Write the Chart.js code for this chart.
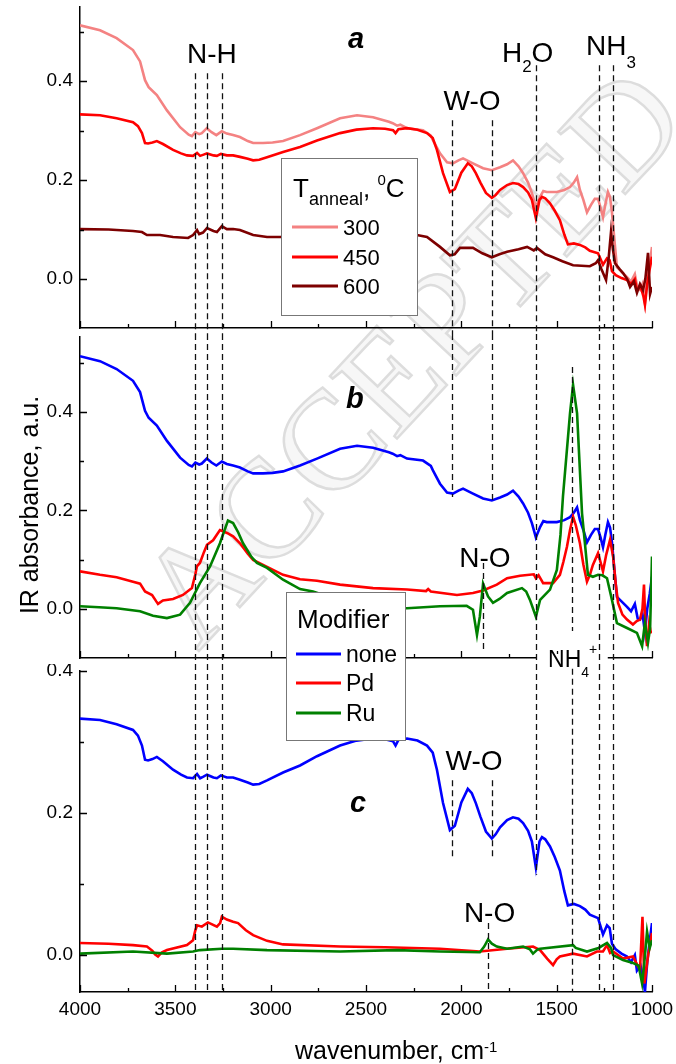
<!DOCTYPE html>
<html>
<head>
<meta charset="utf-8">
<script src="https://cdn.jsdelivr.net/npm/chart.js@4.4.1/dist/chart.umd.min.js"></script>
<style>
  html, body { margin: 0; padding: 0; background: #fff; }
  #page { position: relative; width: 676px; height: 1064px; overflow: hidden; }
  #page canvas { position: absolute; left: 0; }
</style>
</head>
<body>
<div id="page">
  <canvas id="bg" width="676" height="1064" style="top:0"></canvas>
  <canvas id="panelA" width="676" height="334" style="top:0"></canvas>
  <canvas id="panelB" width="676" height="330" style="top:334px"></canvas>
  <canvas id="panelC" width="676" height="400" style="top:664px"></canvas>
  <canvas id="overlay" width="676" height="1064" style="top:0"></canvas>
</div>
<script>
const FONT = 'Arial, "Liberation Sans", Helvetica, sans-serif';

// ---- data (wavenumber, cm-1 / absorbance, a.u.) ----
// T anneal = 300 C (also "none" in panel b)
const wn300 = [4000,3895,3808,3722,3685,3659,3640,3597,3544,3475,3430,3413,3395,3375,3361,3335,3310,3285,3256,3230,3197,3161,3120,3092,3040,2990,2935,2846,2757,2636,2547,2463,2380,2360,2337,2320,2285,2201,2160,2149,2112,2075,2044,2015,1991,1960,1939,1886,1840,1797,1760,1729,1700,1676,1650,1630,1609,1587,1570,1552,1499,1460,1430,1410,1393,1378,1360,1341,1320,1300,1283,1270,1257,1245,1231,1220,1210,1195,1184,1160,1131,1110,1090,1075,1063,1050,1037,1025,1012,1000];
const abs300 = [0.513,0.503,0.487,0.463,0.440,0.402,0.388,0.372,0.341,0.307,0.292,0.289,0.297,0.293,0.295,0.305,0.297,0.291,0.299,0.294,0.291,0.287,0.279,0.275,0.275,0.276,0.279,0.291,0.305,0.325,0.331,0.327,0.318,0.315,0.310,0.312,0.305,0.301,0.290,0.281,0.254,0.236,0.234,0.240,0.244,0.238,0.234,0.224,0.220,0.226,0.232,0.240,0.228,0.214,0.195,0.174,0.145,0.166,0.178,0.176,0.176,0.180,0.186,0.195,0.206,0.180,0.160,0.135,0.150,0.162,0.162,0.145,0.125,0.150,0.176,0.165,0.135,0.070,0.024,0.015,0.004,-0.005,0.010,-0.020,-0.022,-0.010,-0.048,0.000,0.030,0.065];

// T anneal = 450 C (also "none" in panel c)
const wn450 = [4000,3895,3808,3722,3696,3675,3659,3643,3620,3597,3565,3512,3470,3439,3407,3386,3370,3355,3334,3300,3282,3261,3230,3197,3161,3120,3092,3060,3019,2935,2846,2757,2636,2550,2463,2400,2358,2345,2330,2285,2230,2180,2150,2128,2096,2060,2034,2000,1966,1945,1924,1900,1871,1840,1820,1797,1760,1729,1700,1676,1650,1630,1609,1590,1577,1560,1535,1510,1483,1460,1441,1410,1378,1350,1326,1283,1257,1236,1222,1210,1190,1160,1131,1110,1090,1079,1060,1045,1037,1025,1012,1000];
const abs450 = [0.333,0.331,0.325,0.317,0.309,0.295,0.275,0.274,0.276,0.279,0.273,0.261,0.254,0.250,0.249,0.255,0.249,0.251,0.254,0.250,0.249,0.253,0.250,0.250,0.247,0.243,0.240,0.241,0.246,0.257,0.267,0.280,0.295,0.302,0.305,0.304,0.301,0.295,0.303,0.305,0.302,0.295,0.285,0.261,0.214,0.176,0.182,0.215,0.234,0.228,0.214,0.195,0.174,0.164,0.170,0.180,0.190,0.194,0.192,0.186,0.175,0.160,0.123,0.160,0.166,0.163,0.153,0.138,0.119,0.090,0.070,0.072,0.069,0.064,0.057,0.052,0.029,0.042,0.038,0.016,0.008,0.002,-0.002,-0.010,0.000,-0.022,-0.015,-0.035,-0.052,-0.010,0.020,0.045];

// T anneal = 600 C
const wn600 = [4000,3850,3722,3675,3649,3580,3512,3433,3407,3386,3375,3355,3334,3300,3282,3256,3230,3197,3161,3092,3019,2951,2850,2700,2500,2350,2233,2180,2112,2060,2035,2007,1939,1890,1840,1800,1760,1700,1655,1620,1603,1560,1519,1470,1414,1370,1326,1295,1283,1265,1241,1228,1215,1205,1194,1170,1152,1130,1115,1095,1079,1063,1047,1035,1021,1010,1000];
const abs600 = [0.101,0.100,0.097,0.095,0.089,0.089,0.085,0.083,0.089,0.099,0.091,0.094,0.103,0.097,0.095,0.107,0.101,0.101,0.099,0.089,0.085,0.085,0.086,0.088,0.090,0.090,0.089,0.085,0.065,0.048,0.050,0.063,0.063,0.052,0.044,0.050,0.055,0.060,0.065,0.058,0.063,0.050,0.044,0.036,0.028,0.027,0.026,0.032,0.038,0.020,-0.002,0.040,0.095,0.060,0.032,0.020,0.012,0.000,-0.016,-0.005,-0.028,-0.010,-0.022,0.000,0.053,-0.030,-0.016];

// panel b: 300 C with Pd and Ru
const wnPdB = [4000,3895,3808,3722,3685,3659,3622,3600,3591,3565,3512,3460,3413,3395,3387,3371,3350,3334,3302,3266,3229,3197,3161,3120,3092,3019,2935,2846,2757,2636,2463,2285,2185,2174,2160,2023,1939,1886,1814,1760,1692,1620,1609,1595,1580,1571,1519,1483,1465,1446,1430,1414,1400,1378,1360,1341,1325,1310,1283,1270,1257,1240,1220,1204,1190,1178,1155,1131,1100,1080,1063,1050,1042,1034,1026,1015,1005];
const absPdB = [0.076,0.069,0.064,0.055,0.051,0.035,0.028,0.015,0.010,0.017,0.020,0.028,0.042,0.070,0.086,0.093,0.115,0.130,0.139,0.160,0.154,0.147,0.133,0.112,0.099,0.085,0.069,0.060,0.057,0.049,0.042,0.039,0.036,0.040,0.035,0.028,0.032,0.037,0.049,0.062,0.067,0.070,0.062,0.068,0.058,0.052,0.052,0.069,0.095,0.126,0.160,0.187,0.170,0.133,0.090,0.055,0.070,0.089,0.113,0.095,0.076,0.110,0.140,0.106,0.050,0.012,-0.012,-0.022,-0.032,-0.025,-0.022,0.000,0.049,-0.040,-0.076,-0.030,-0.050];

const wnRuB = [4000,3900,3808,3685,3617,3544,3475,3423,3371,3318,3266,3224,3197,3170,3145,3100,3072,3019,2935,2846,2778,2740,2700,2636,2500,2285,2112,1972,1939,1918,1903,1886,1860,1834,1800,1760,1682,1660,1640,1609,1587,1535,1499,1480,1467,1430,1414,1393,1367,1336,1310,1283,1260,1236,1210,1184,1131,1079,1052,1037,1021,1010,1000];
const absRuB = [0.005,0.003,0.001,-0.005,-0.014,-0.019,-0.012,0.012,0.052,0.086,0.133,0.179,0.174,0.155,0.133,0.105,0.093,0.083,0.059,0.040,0.035,0.030,0.015,0.004,0.002,0.001,0.005,0.006,-0.002,-0.053,-0.016,0.051,0.025,0.012,0.020,0.032,0.042,0.035,0.018,-0.016,0.018,0.039,0.079,0.150,0.228,0.397,0.455,0.397,0.194,0.069,0.065,0.069,0.068,0.062,0.018,-0.029,-0.039,-0.049,-0.076,-0.029,-0.069,-0.040,0.106];

// panel c: 450 C with Pd and Ru
const wnPdC = [4000,3850,3722,3649,3620,3607,3591,3570,3544,3439,3407,3395,3386,3361,3329,3282,3265,3256,3230,3197,3171,3130,3092,3019,2935,2636,2400,2112,1903,1760,1624,1587,1550,1519,1500,1483,1414,1341,1289,1257,1236,1220,1204,1152,1100,1063,1050,1040,1020,1000];
const absPdC = [0.017,0.016,0.014,0.012,0.006,0.001,-0.002,0.004,0.007,0.014,0.021,0.035,0.042,0.040,0.046,0.040,0.045,0.054,0.050,0.047,0.045,0.035,0.028,0.020,0.015,0.012,0.011,0.009,0.005,0.009,0.012,0.007,-0.005,-0.014,-0.006,-0.002,0.002,-0.002,0.005,0.005,0.014,0.003,0.005,-0.005,-0.002,-0.021,0.054,-0.040,0.000,0.031];

const wnRuC = [4000,3722,3544,3407,3371,3256,3197,3019,2636,2337,2112,1903,1880,1860,1840,1814,1760,1676,1640,1624,1600,1587,1414,1400,1341,1280,1236,1215,1204,1152,1100,1070,1052,1040,1026,1012,1000];
const absRuC = [0.002,0.005,0.002,0.005,0.007,0.009,0.009,0.007,0.005,0.007,0.005,0.004,0.012,0.022,0.016,0.012,0.009,0.012,0.008,0.002,0.008,0.009,0.014,0.010,0.005,0.010,0.017,0.010,0.000,-0.007,-0.011,-0.015,-0.040,-0.010,0.033,0.010,0.021];

// ticks
const xTickVals = [4000,3750,3500,3250,3000,2750,2500,2250,2000,1750,1500,1250,1000];
const yTicksAB = [0, 0.1, 0.2, 0.3, 0.4, 0.5];
const yTicksC = [0, 0.1, 0.2, 0.3, 0.4];

// band positions, cm-1
const nhBands = [3395, 3335, 3255];
const woBands = [2051, 1841];
const h2oBand = 1609;
const nh3Bands = [1278, 1203];
const nh4Band = 1418;
const noBandB = 1886;
const noBandC = 1862;

const isMajorY = v => Math.abs(v * 5 - Math.round(v * 5)) < 1e-6;

function makePanel(id, series, yMin, yMax, yTicks, padTop, xHeight, showX) {
  return new Chart(document.getElementById(id), {
    type: 'line',
    data: {
      datasets: series.map((s, i) => ({
        label: s.label,
        data: s.wn.map((w, k) => ({ x: w, y: s.abs[k] })),
        borderColor: s.color,
        borderWidth: 2.6,
        pointRadius: 0,
        tension: 0,
        fill: false,
        order: series.length - i
      }))
    },
    options: {
      responsive: false,
      animation: false,
      events: [],
      layout: { padding: { top: padTop, right: 24, left: 0, bottom: 0 } },
      plugins: { legend: { display: false }, tooltip: { enabled: false } },
      scales: {
        x: {
          type: 'linear',
          reverse: true,
          min: 1000,
          max: 4000,
          afterBuildTicks: s => { s.ticks = xTickVals.map(v => ({ value: v })); },
          afterFit: s => { s.height = xHeight; s.paddingLeft = 0; s.paddingRight = 0; },
          grid: { display: false, drawTicks: false },
          border: { display: true, color: '#000', width: 1.5 },
          ticks: {
            display: showX,
            padding: 6,
            autoSkip: false,
            maxRotation: 0,
            color: '#000',
            font: { family: FONT, size: 19 },
            callback: v => (v % 500 === 0 ? String(v) : '')
          }
        },
        y: {
          type: 'linear',
          min: yMin,
          max: yMax,
          afterBuildTicks: s => { s.ticks = yTicks.map(v => ({ value: v })); },
          afterFit: s => { s.width = 80; s.paddingTop = 0; s.paddingBottom = 0; },
          grid: { display: false, drawTicks: false },
          border: { display: true, color: '#000', width: 1.5 },
          ticks: {
            padding: 7,
            autoSkip: false,
            color: '#000',
            font: { family: FONT, size: 19 },
            callback: v => (isMajorY(v) ? v.toFixed(1) : '')
          }
        }
      }
    }
  });
}

const chartA = makePanel('panelA', [
  { label: '300', wn: wn300, abs: abs300, color: '#F48282' },
  { label: '450', wn: wn450, abs: abs450, color: '#FF0000' },
  { label: '600', wn: wn600, abs: abs600, color: '#7D0000' }
], -0.099, 0.55, yTicksAB, 7, 6, false);

const chartB = makePanel('panelB', [
  { label: 'none', wn: wn300, abs: abs300, color: '#0000FF' },
  { label: 'Pd', wn: wnPdB, abs: absPdB, color: '#FF0000' },
  { label: 'Ru', wn: wnRuB, abs: absRuB, color: '#008000' }
], -0.1, 0.552, yTicksAB, 3, 6, false);

const chartC = makePanel('panelC', [
  { label: 'none', wn: wn450, abs: abs450, color: '#0000FF' },
  { label: 'Pd', wn: wnPdC, abs: absPdC, color: '#FF0000' },
  { label: 'Ru', wn: wnRuC, abs: absRuC, color: '#008000' }
], -0.052, 0.4, yTicksC, 7, 72, true);

// ---- watermark underneath (hollow letters) ----
(function () {
  const g = document.getElementById('bg').getContext('2d');
  g.save();
  g.translate(198, 652);
  g.rotate(-47 * Math.PI / 180);
  g.font = '140px "Liberation Serif", "Times New Roman", serif';
  g.strokeStyle = '#dddddd';
  g.lineWidth = 2.5;
  g.fillStyle = '#f7f7f7';
  g.fillText('ACCEPTED', 0, 0);
  g.strokeText('ACCEPTED', 0, 0);
  g.restore();
})();

// ---- overlay: ticks, band markers, labels, legends, axis titles ----
const charts = [chartA, chartB, chartC];
const tops = [0, 334, 664];
const ctx = document.getElementById('overlay').getContext('2d');
const X = wn => chartC.scales.x.getPixelForValue(wn);
const Y = (p, v) => tops[p] + charts[p].scales.y.getPixelForValue(v);

// inward ticks
ctx.strokeStyle = '#000';
ctx.lineWidth = 1.3;
charts.forEach((ch, p) => {
  const a = ch.chartArea;
  const yTicks = p === 2 ? yTicksC : yTicksAB;
  ctx.beginPath();
  xTickVals.forEach(v => {
    const len = v % 500 === 0 ? 7 : 4;
    const x = Math.round(X(v)) + 0.5;
    ctx.moveTo(x, tops[p] + a.bottom);
    ctx.lineTo(x, tops[p] + a.bottom - len);
  });
  yTicks.forEach(v => {
    const len = isMajorY(v) ? 7 : 4;
    const y = Math.round(Y(p, v)) + 0.5;
    ctx.moveTo(a.left, y);
    ctx.lineTo(a.left + len, y);
  });
  ctx.stroke();
});

// the NH4+ label sits on the axis of panel b
ctx.fillStyle = '#fff';
ctx.fillRect(X(1605), tops[1] + chartB.chartArea.bottom - 4, X(1232) - X(1605), 8);

// dashed band markers: [panel, wavenumber, top value, bottom value] (null = panel edge)
const segs = [];
nhBands.forEach(w => segs.push([0, w, 0.416, null], [1, w, null, null], [2, w, null, null]));
woBands.forEach(w => segs.push([0, w, 0.321, null], [2, w, 0.246, 0.138]));
segs.push([1, woBands[0], null, 0.227], [1, woBands[1], null, 0.215]);
segs.push([0, h2oBand, 0.432, null], [1, h2oBand, null, null], [2, h2oBand, null, 0.113]);
nh3Bands.forEach(w => segs.push([0, w, 0.432, null], [1, w, null, null], [2, w, null, null]));
segs.push([1, nh4Band, 0.491, -0.045], [2, nh4Band, 0.403, null]);
segs.push([1, noBandB, 0.093, -0.089], [2, noBandC, 0.045, null]);

ctx.strokeStyle = '#111';
ctx.lineWidth = 1.3;
ctx.setLineDash([6, 4]);
segs.forEach(([p, w, vt, vb]) => {
  const ch = charts[p];
  const yTop = vt === null ? tops[p] : Y(p, vt);
  const yBot = vb === null ? (p === 2 ? tops[p] + ch.chartArea.bottom : tops[p] + ch.height) : Y(p, vb);
  const x = Math.round(X(w)) + 0.5;
  ctx.beginPath();
  ctx.moveTo(x, yTop);
  ctx.lineTo(x, yBot);
  ctx.stroke();
});
ctx.setLineDash([]);

// text helpers
function runsWidth(runs, weight) {
  let w = 0;
  runs.forEach(([t, size]) => { ctx.font = (weight || '') + ' ' + size + 'px ' + FONT; w += ctx.measureText(t).width; });
  return w;
}
function drawRuns(x, y, runs, align, weight) {
  let cx = align === 'center' ? x - runsWidth(runs, weight) / 2 : x;
  ctx.textAlign = 'left';
  ctx.textBaseline = 'alphabetic';
  runs.forEach(([t, size, dy]) => {
    ctx.font = (weight || '') + ' ' + size + 'px ' + FONT;
    ctx.fillText(t, cx, y + (dy || 0));
    cx += ctx.measureText(t).width;
  });
}

ctx.fillStyle = '#000';
// band labels: [panel, wavenumber, value, runs, align]
const bandLabels = [
  [0, 3308, 0.436, [['N-H', 28]], 'center'],
  [0, 1944, 0.341, [['W-O', 28]], 'center'],
  [0, 1787, 0.438, [['H', 28], ['2', 17, 10], ['O', 28]], 'left'],
  [0, 1346, 0.452, [['NH', 28], ['3', 17, 13]], 'left'],
  [1, 1876, 0.085, [['N-O', 28]], 'center'],
  [1, 1545, -0.118, [['NH', 23], ['4', 14, 10], ['+', 14, -13]], 'left'],
  [2, 1933, 0.260, [['W-O', 28]], 'center'],
  [2, 1852, 0.046, [['N-O', 28]], 'center']
];
bandLabels.forEach(([p, w, v, runs, align]) => drawRuns(X(w), Y(p, v), runs, align));

// panel letters
[[0, 2552, 0.467, 'a'], [1, 2558, 0.408, 'b'], [2, 2542, 0.201, 'c']].forEach(([p, w, v, t]) => {
  drawRuns(X(w), Y(p, v), [[t, 29]], 'center', 'italic bold');
});

// legends
function drawLegend(box, titleRuns, titleX, titleY, chart, rowYs, lineX0, lineX1, textX, fontSize) {
  ctx.fillStyle = '#fff';
  ctx.fillRect(box[0], box[1], box[2] - box[0], box[3] - box[1]);
  ctx.strokeStyle = '#777';
  ctx.lineWidth = 1;
  ctx.strokeRect(box[0] + 0.5, box[1] + 0.5, box[2] - box[0], box[3] - box[1]);
  ctx.fillStyle = '#000';
  drawRuns(titleX, titleY, titleRuns, 'left');
  chart.data.datasets.forEach((ds, i) => {
    const y = rowYs[i];
    ctx.strokeStyle = ds.borderColor;
    ctx.lineWidth = 3;
    ctx.beginPath();
    ctx.moveTo(lineX0, y);
    ctx.lineTo(lineX1, y);
    ctx.stroke();
    ctx.fillStyle = '#000';
    drawRuns(textX, y + 7.5, [[ds.label, fontSize]], 'left');
  });
}
drawLegend([281, 158, 417, 315],
  [['T', 26], ['anneal', 18, 8], [', ', 26], ['0', 15, -12], ['C', 26]], 293, 197,
  chartA, [227, 257, 286], 292, 338, 343, 22);
drawLegend([286, 592, 405, 740],
  [['Modifier', 26]], 297, 628,
  chartB, [654, 683, 713], 296, 341, 346, 23);

// axis titles
ctx.fillStyle = '#000';
ctx.save();
ctx.translate(38, 505);
ctx.rotate(-Math.PI / 2);
ctx.textAlign = 'center';
ctx.textBaseline = 'alphabetic';
ctx.font = '25px ' + FONT;
ctx.fillText('IR absorbance, a.u.', 0, 0);
ctx.restore();
drawRuns(295, 1059, [['wavenumber, cm', 25], ['-1', 15, -7]], 'left');
</script>
</body>
</html>
